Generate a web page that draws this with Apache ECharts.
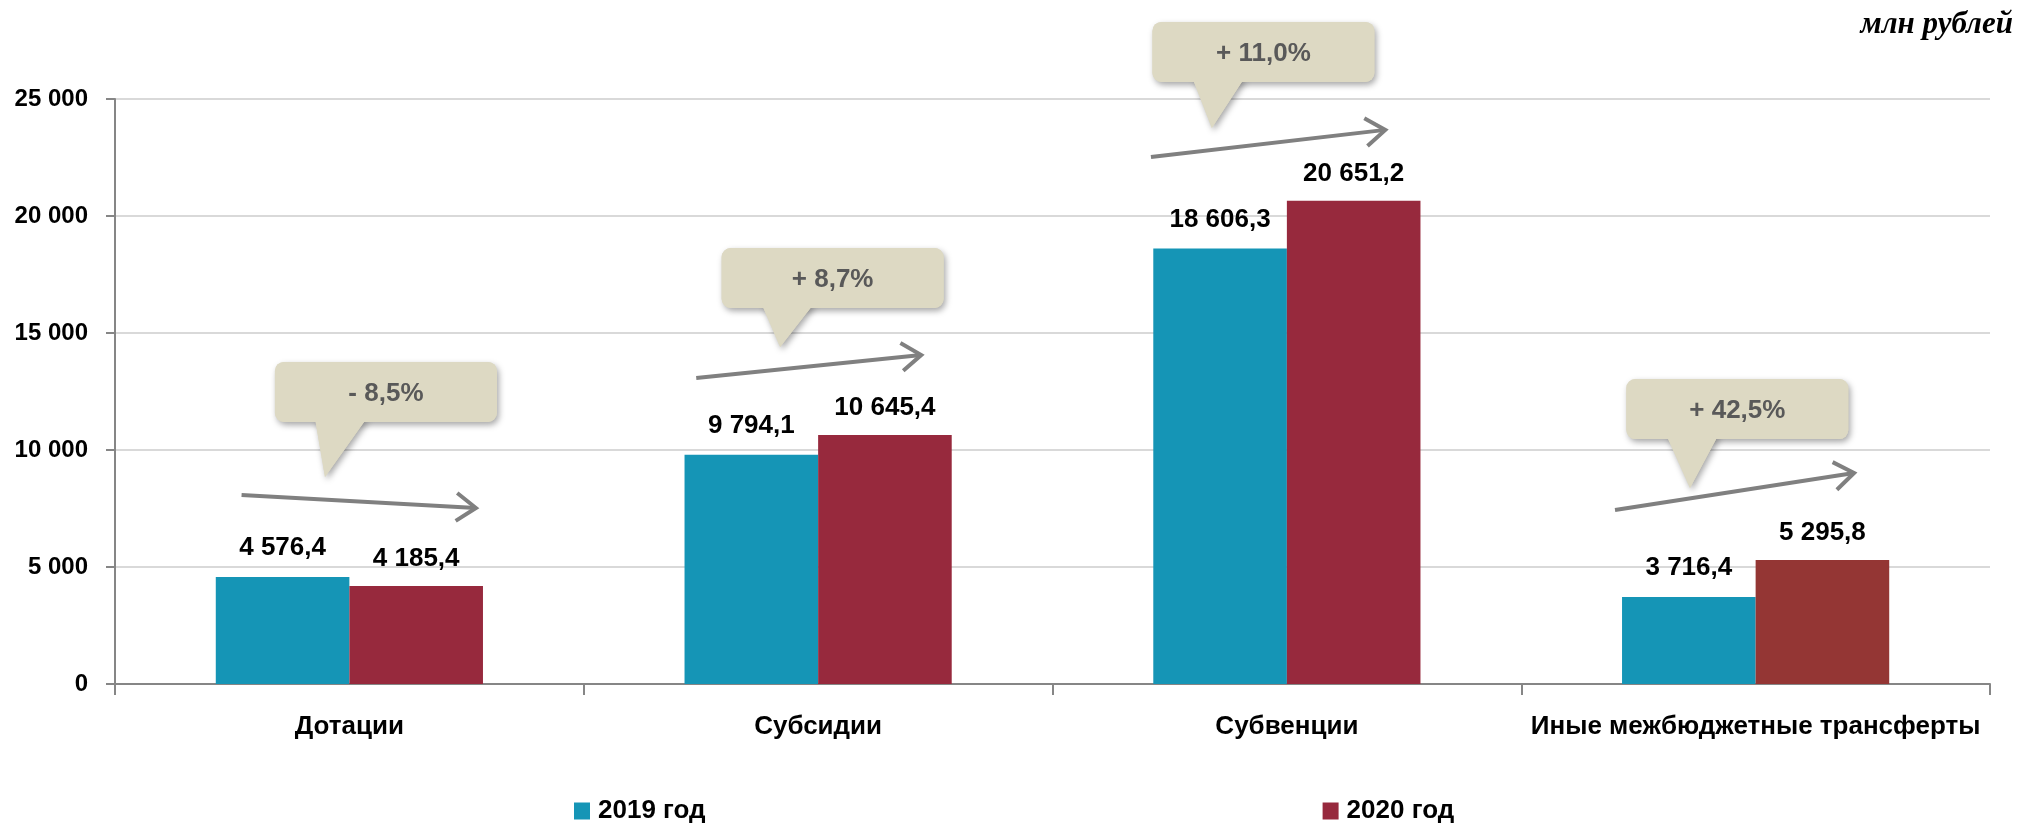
<!DOCTYPE html>
<html>
<head>
<meta charset="utf-8">
<title>Межбюджетные трансферты</title>
<script src="https://cdn.jsdelivr.net/npm/echarts@6/dist/echarts.min.js"></script>
<style>
html,body{margin:0;padding:0;background:#fff;}
#main{width:2042px;height:825px;}
</style>
</head>
<body>
<div id="main"></div>
<script>
// данные
var categories = ['Дотации', 'Субсидии', 'Субвенции', 'Иные межбюджетные трансферты'];
var values2019 = [4576.4, 9794.1, 18606.3, 3716.4];
var values2020 = [4185.4, 10645.4, 20651.2, 5295.8];
var changes = ['- 8,5%', '+ 8,7%', '+ 11,0%', '+ 42,5%'];
var yTicks = [0, 5000, 10000, 15000, 20000, 25000];

// раскладка выносок (x — доля категории, y — в единицах оси)
var arrowLayout = [
	[0.27, 8080, 0.77, 7520],
	[1.24, 13080, 1.72, 14060],
	[2.21, 22520, 2.71, 23680],
	[3.20, 7440, 3.71, 9020]
];
var calloutLayout = [
	[0.578, 12480, 0.448, 8850],
	[1.531, 17350, 1.419, 14400],
	[2.450, 27010, 2.340, 23760],
	[3.461, 11750, 3.360, 8380]
];

var narrow = "'Liberation Sans Narrow','Arial Narrow','Liberation Sans',Arial,sans-serif";

function fmt(v, dec) {
	var s = v.toFixed(dec).replace('.', ',');
	var parts = s.split(',');
	parts[0] = parts[0].replace(/\B(?=(\d{3})+(?!\d))/g, ' ');
	return parts.join(',');
}

function renderArrow(params, api) {
	var a = api.coord([api.value(0), api.value(1)]);
	var b = api.coord([api.value(2), api.value(3)]);
	var ang = Math.atan2(b[1] - a[1], b[0] - a[0]);
	var len = 24, spread = 0.62;
	var p1 = [b[0] - len * Math.cos(ang - spread), b[1] - len * Math.sin(ang - spread)];
	var p2 = [b[0] - len * Math.cos(ang + spread), b[1] - len * Math.sin(ang + spread)];
	var st = {stroke: '#808080', lineWidth: 4, fill: null};
	return {
		type: 'group',
		children: [
			{type: 'line', shape: {x1: a[0], y1: a[1], x2: b[0], y2: b[1]}, style: st},
			{type: 'polyline', shape: {points: [p1, b, p2]}, style: st}
		]
	};
}

function renderCallout(params, api) {
	var c = api.coord([api.value(0), api.value(1)]);
	var tip = api.coord([api.value(2), api.value(3)]);
	var w = 222, h = 60;
	var x0 = c[0] - w / 2, y0 = c[1] - h / 2;
	var fill = '#DDD9C3';
	var shadow = {shadowBlur: 6, shadowOffsetX: 2, shadowOffsetY: 3, shadowColor: 'rgba(0,0,0,0.35)'};
	var pts = [[x0 + 40, y0 + h - 4], [x0 + 92, y0 + h - 4], tip];
	return {
		type: 'group',
		children: [
			{type: 'rect', shape: {x: x0, y: y0, width: w, height: h, r: 9}, style: Object.assign({fill: fill}, shadow)},
			{type: 'polygon', shape: {points: pts}, style: Object.assign({fill: fill}, shadow)},
			{type: 'rect', shape: {x: x0, y: y0, width: w, height: h, r: 9}, style: {fill: fill}},
			{type: 'polygon', shape: {points: pts}, style: {fill: fill}},
			{type: 'text', style: {
				text: changes[params.dataIndex], x: c[0], y: c[1] + 2,
				align: 'center', verticalAlign: 'middle',
				fill: '#595959', fontSize: 26, fontWeight: 'bold', fontFamily: narrow
			}}
		]
	};
}

window.onload = function () {
	var myChart = echarts.init(document.getElementById('main'));
	var option = {
		backgroundColor: '#fff',
		animation: false,
		title: {
			text: 'млн рублей',
			right: 24,
			top: 4,
			textStyle: {
				fontFamily: "'Liberation Serif','Times New Roman',serif",
				fontStyle: 'italic',
				fontWeight: 'bold',
				fontSize: 31,
				color: '#000'
			}
		},
		legend: {
			data: ['2019 год', '2020 год'],
			left: 569,
			top: 793,
			itemWidth: 16,
			itemHeight: 17,
			itemGap: 617,
			icon: 'rect',
			textStyle: {fontFamily: narrow, fontWeight: 'bold', fontSize: 26, color: '#000', padding: [0, 0, 0, 3]}
		},
		grid: {left: 115, right: 52, top: 99, bottom: 141, containLabel: false, outerBoundsMode: 'none'},
		xAxis: [{
			type: 'category',
			data: categories,
			axisLine: {lineStyle: {color: '#868686', width: 2}},
			axisTick: {show: true, interval: 0, length: 11, lineStyle: {color: '#868686', width: 2}},
			axisLabel: {interval: 0, margin: 30, fontFamily: narrow, fontWeight: 'bold', fontSize: 26, color: '#000'}
		}, {
			type: 'value',
			min: 0,
			max: 4,
			show: false
		}],
		yAxis: {
			type: 'value',
			min: yTicks[0],
			max: yTicks[yTicks.length - 1],
			interval: yTicks[1] - yTicks[0],
			axisLine: {show: true, lineStyle: {color: '#868686', width: 2}},
			axisTick: {show: true, length: 9, lineStyle: {color: '#868686', width: 2}},
			splitLine: {lineStyle: {color: '#d9d9d9', width: 2}},
			axisLabel: {
				margin: 27,
				fontFamily: narrow, fontWeight: 'bold', fontSize: 24, color: '#000',
				formatter: function (v) { return fmt(v, 0); }
			}
		},
		series: [{
			name: '2019 год',
			type: 'bar',
			data: values2019,
			barGap: '0%',
			barCategoryGap: '43%',
			itemStyle: {color: '#1595B6'},
			label: {
				show: true, position: 'top', distance: 16,
				fontFamily: narrow, fontWeight: 'bold', fontSize: 26, color: '#000',
				formatter: function (p) { return fmt(p.value, 1); }
			}
		}, {
			name: '2020 год',
			type: 'bar',
			data: values2020.map(function (v, i) {
				return i === 3 ? {value: v, itemStyle: {color: '#943634'}} : v;
			}),
			itemStyle: {color: '#97293D'},
			label: {
				show: true, position: 'top', distance: 14,
				fontFamily: narrow, fontWeight: 'bold', fontSize: 26, color: '#000',
				formatter: function (p) { return fmt(p.value, 1); }
			}
		}, {
			type: 'custom',
			xAxisIndex: 1,
			data: arrowLayout,
			renderItem: renderArrow,
			silent: true,
			z: 5
		}, {
			type: 'custom',
			xAxisIndex: 1,
			data: calloutLayout,
			renderItem: renderCallout,
			silent: true,
			z: 6
		}]
	};
	myChart.setOption(option);
};
</script>
</body>
</html>
